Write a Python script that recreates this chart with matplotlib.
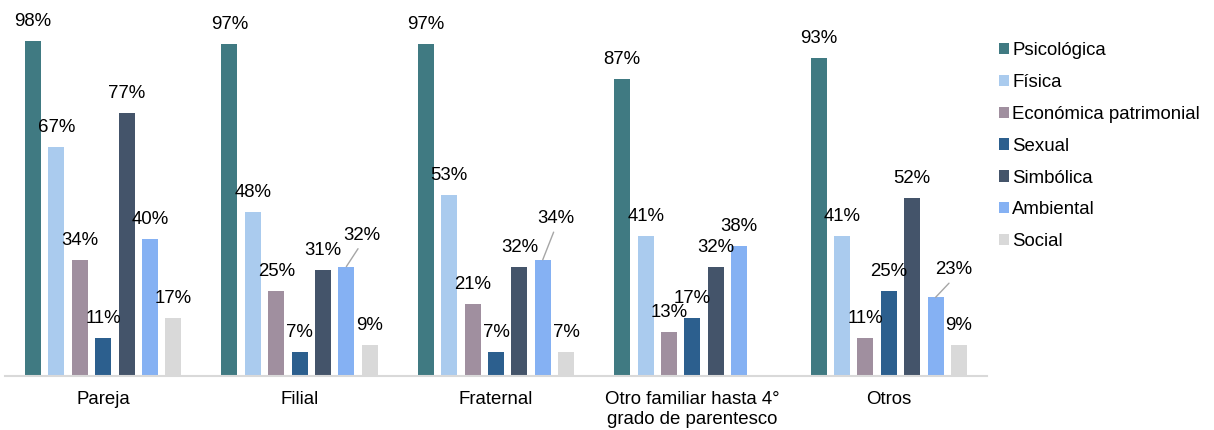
import matplotlib
matplotlib.use("Agg")
import matplotlib.pyplot as plt
from matplotlib.patches import Patch
import numpy as np

plt.rcParams['font.family'] = ['Liberation Sans', 'DejaVu Sans']

# Data
categories = ['Pareja', 'Filial', 'Fraternal', 'Otro familiar hasta 4°\ngrado de parentesco', 'Otros']
series = ['Psicológica', 'Física', 'Económica patrimonial', 'Sexual', 'Simbólica', 'Ambiental', 'Social']
psicologica = [98, 97, 97, 87, 93]
fisica = [67, 48, 53, 41, 41]
economica = [34, 25, 21, 13, 11]
sexual = [11, 7, 7, 17, 25]
simbolica = [77, 31, 32, 32, 52]
ambiental = [40, 32, 34, 38, 23]
social = [17, 9, 7, 0, 9]
values = [psicologica, fisica, economica, sexual, simbolica, ambiental, social]

colors = ['#407A82', '#AACBEE', '#A08F9F', '#2C5F8E', '#44546A', '#85B1F3', '#D9D9D9']

# labels moved away from their bar (with leader line): (group, series) -> offset in pixels
moved = {(1, 5): (15, 27), (2, 5): (13, 37), (4, 5): (18, 23)}

FS = 13.4

fig = plt.figure(figsize=(12.14, 4.30), dpi=100)
ax = fig.add_axes([5 / 1214, 54 / 430, 982 / 1214, 376 / 430])

x = np.arange(len(categories))
step = 0.119
width = 0.0815

for j, (vals, col) in enumerate(zip(values, colors)):
    xs = x + (j - 3) * step
    ax.bar(xs, vals, width=width, color=col, zorder=2)
    for i, v in enumerate(vals):
        if v == 0:
            continue
        if (i, j) in moved:
            ax.annotate(f'{v}%', xy=(xs[i], v), xytext=moved[(i, j)],
                        textcoords='offset pixels', ha='center', va='baseline',
                        fontsize=FS, color='black',
                        arrowprops=dict(arrowstyle='-', color='#A6A6A6', lw=1,
                                        relpos=(0.5, 0), shrinkA=2, shrinkB=0))
        else:
            ax.annotate(f'{v}%', xy=(xs[i], v), xytext=(0, 15),
                        textcoords='offset pixels', ha='center', va='baseline',
                        fontsize=FS, color='black')

ax.set_xlim(-0.5, 4.5)
ax.set_ylim(0, 110)
ax.set_xticks(x)
ax.set_xticklabels(categories, fontsize=FS)
ax.tick_params(axis='x', length=0, pad=11, colors='black')
ax.set_yticks([])
for s in ['top', 'right', 'left']:
    ax.spines[s].set_visible(False)
ax.spines['bottom'].set_color('#D9D9D9')
ax.spines['bottom'].set_linewidth(1.5)
ax.patch.set_alpha(0)

handles = [Patch(facecolor=c, edgecolor='none') for c in colors]
fig.legend(handles, series, loc='upper left', bbox_to_anchor=(999 / 1214, 1 - 42 / 430),
           frameon=False, fontsize=FS, handlelength=0.55, handleheight=0.55,
           handletextpad=0.17, labelspacing=0.8, borderpad=0, borderaxespad=0)

plt.savefig('out.png', dpi=100)
